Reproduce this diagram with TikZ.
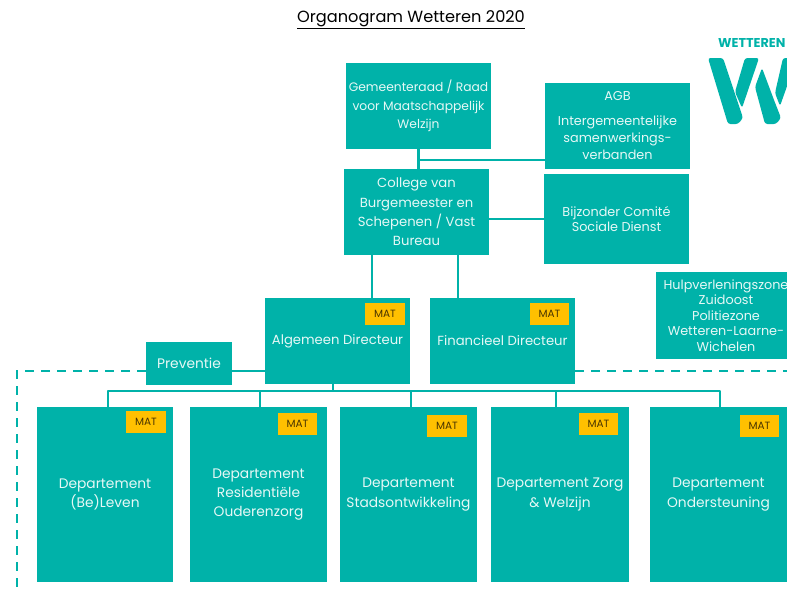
\documentclass[tikz,border=0pt]{standalone}
\usepackage{fontspec}
\setmainfont{Poppins}
\definecolor{teal1}{HTML}{00B2A9}
\definecolor{mat1}{HTML}{FFC000}
\definecolor{mattxt}{HTML}{4A3500}
\definecolor{txt1}{HTML}{E6F8F6}
\newcommand{\fs}[2]{\fontsize{#1}{#2}\selectfont}
\tikzset{
  x=1pt,y=-1pt,
  box/.style={fill=teal1,text=txt1,inner sep=0pt,align=center},
  topbox/.style={box,minimum width=145pt,minimum height=86pt,font=\fs{13.2}{19.3}},
  gembox/.style={box,minimum width=145pt,minimum height=86pt,font=\fs{12.3}{18.5}},
  agbbox/.style={box,minimum width=145pt,minimum height=86pt,font=\fs{12.8}{17}},
  sidebox/.style={box,minimum width=145pt,minimum height=90pt,font=\fs{12.8}{15}},
  hulpbox/.style={box,minimum width=140pt,minimum height=87pt,font=\fs{12.8}{15.5}},
  prevbox/.style={box,minimum width=86pt,minimum height=43pt,font=\fs{13.8}{17}},
  deptbox/.style={box,minimum height=175pt,font=\fs{13.8}{19.3}},
  matbox/.style={fill=mat1,text=mattxt,inner sep=0pt,minimum width=39.5pt,minimum height=22pt,font=\fs{10.5}{12}},
  conn/.style={draw=teal1,line width=2.4pt},
  dash1/.style={draw=teal1,line width=2.6pt,dash pattern=on 9pt off 7pt},
  logo/.style={fill=teal1,rounded corners=2.5pt}
}
\begin{document}
\begin{tikzpicture}
\useasboundingbox (0,0) rectangle (787,592);
\clip (0,0) rectangle (787,592);
\fill[white] (0,0) rectangle (787,592);
\node[font=\fs{16.2}{19},text=black] (title) at (411,20) {\underline{Organogram Wetteren 2020}};
\node[font=\bfseries\fs{12.8}{15},text=teal1,anchor=west,inner sep=0pt] (wet) at (718,43) {WETTEREN};
% logo
\fill[logo] (708,58) -- (723,58) -- (743,118) -- (738,124) -- (728,124) -- cycle;
\fill[logo] (745,58) -- (759,58) -- (742,108) -- (735,92) -- cycle;
\fill[logo] (762,68) -- (774,100) -- (781,118) -- (776,124) -- (765,124) -- (755,87) -- cycle;
\fill[logo] (783,58) -- (797,58) -- (780,106) -- (775,93) -- cycle;
% boxes
\node[gembox] (gem) at (418.5,106) {Gemeenteraad / Raad\\voor Maatschappelijk\\Welzijn};
\node[agbbox] (agb) at (617.5,126) {AGB\\[8pt]Intergemeentelijke\\samenwerkings-\\verbanden};
\node[topbox] (col) at (416.5,212) {College van\\Burgemeester en\\Schepenen / Vast\\Bureau};
\node[sidebox] (bij) at (616.5,219) {Bijzonder Comité\\Sociale Dienst};
\node[hulpbox] (hulp) at (726,315.5) {Hulpverleningszone\\Zuidoost\\Politiezone\\Wetteren-Laarne-\\Wichelen};
\node[topbox] (alg) at (337.5,341) {Algemeen Directeur};
\node[topbox] (fin) at (502.5,341) {Financieel Directeur};
\node[prevbox] (prev) at (189,363.5) {Preventie};
\node[deptbox,minimum width=136pt] (d1) at (105,494.5) {Departement\\(Be)Leven};
\node[deptbox,minimum width=137pt] (d2) at (258.5,494.5) {Departement\\Residentiële\\Ouderenzorg};
\node[deptbox,minimum width=137pt] (d3) at (408.5,494.5) {Departement\\Stadsontwikkeling};
\node[deptbox,minimum width=138pt] (d4) at (560,494.5) {Departement Zorg\\\& Welzijn};
\node[deptbox,minimum width=137pt] (d5) at (718.5,494.5) {Departement\\Ondersteuning};
% MAT labels
\node[matbox] (m0) at (385,314) {MAT};
\node[matbox] (m00) at (549.5,314) {MAT};
\node[matbox] (m1) at (146,422) {MAT};
\node[matbox] (m2) at (297.5,424) {MAT};
\node[matbox] (m3) at (447,426) {MAT};
\node[matbox] (m4) at (598.5,424) {MAT};
\node[matbox] (m5) at (759.5,426) {MAT};
% connector points
\coordinate (gb) at (418,160);
\coordinate (algb) at (333,391);
\coordinate (dl) at (17,371);
\coordinate (dr) at (787,371);
\coordinate (dd) at (17,592);
% connectors
\draw[conn] (gem.south) -- (gem.south |- col.north);
\draw[conn] (gb) -- (gb -| agb.west);
\draw[conn] (col.east |- bij.west) -- (bij.west);
\draw[conn] (372,255) coordinate (c1) -- (c1 |- alg.north);
\draw[conn] (458,255) coordinate (c2) -- (c2 |- fin.north);
\draw[conn] (prev.east |- dl) -- (alg.west |- dl);
\draw[conn] (algb |- alg.south) -- (algb);
\draw[conn,line join=round] (108,407) coordinate (t1) -- (t1 |- algb) -- (720,391) coordinate (t5) -- (t5 |- d5.north);
\draw[conn] (260,391) coordinate (t2) -- (t2 |- d2.north);
\draw[conn] (411,391) coordinate (t3) -- (t3 |- d3.north);
\draw[conn] (556,391) coordinate (t4) -- (t4 |- d4.north);
\draw[dash1] (prev.west |- dl) -- (dl) -- (dd);
\draw[dash1] (fin.east |- dr) -- (dr);
\end{tikzpicture}
\end{document}
